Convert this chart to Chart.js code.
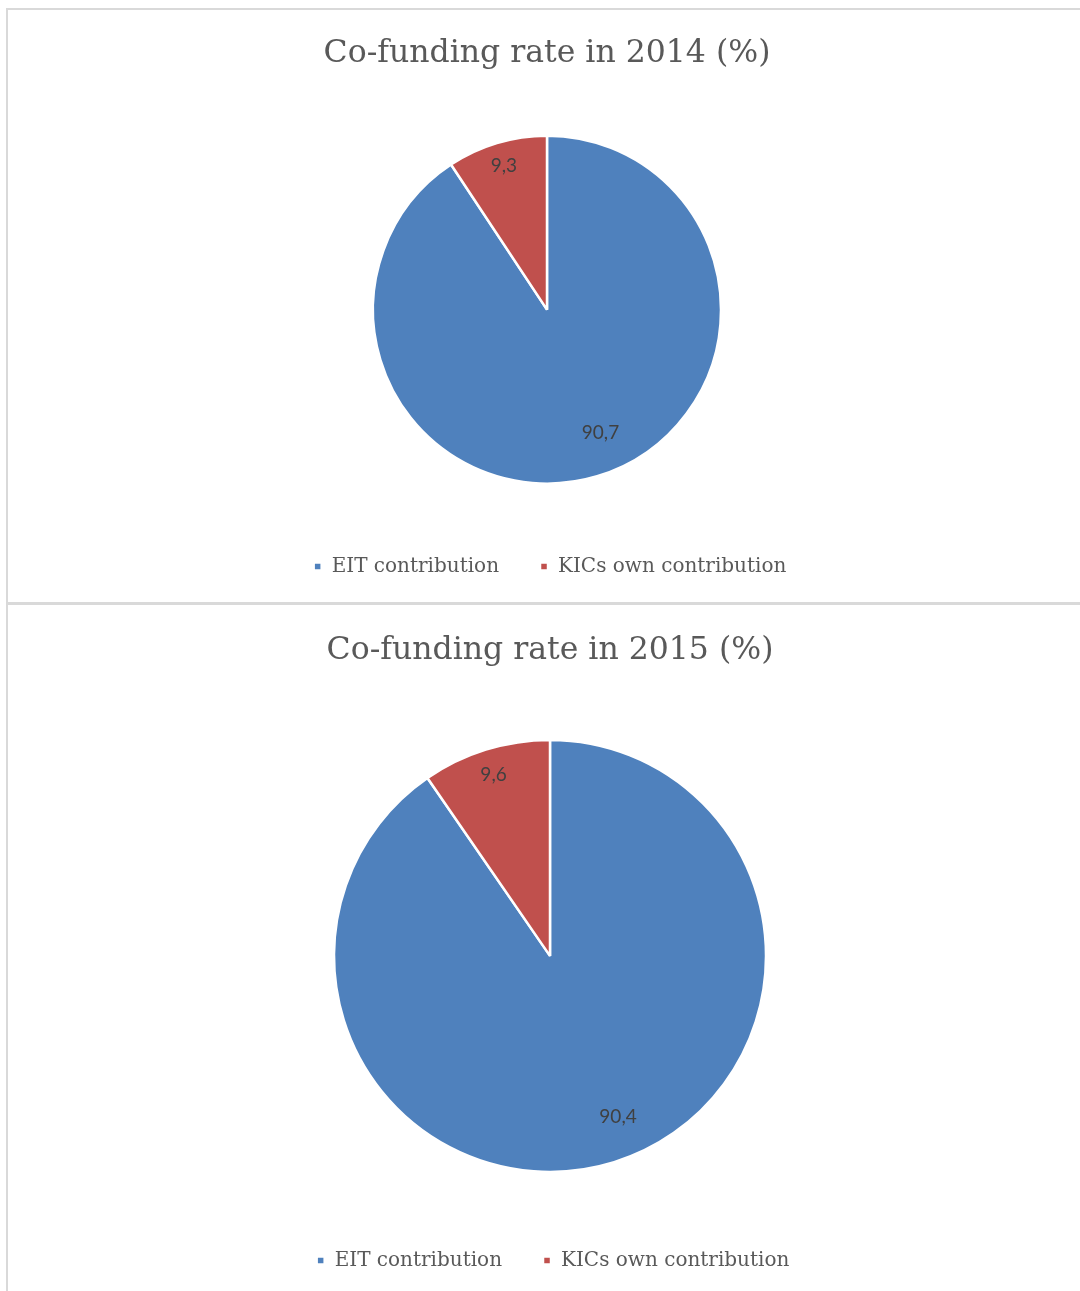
<!DOCTYPE html>
<html>
<head>
<meta charset="utf-8">
<script src="https://cdn.jsdelivr.net/npm/chart.js@4.4.1/dist/chart.umd.min.js"></script>
<style>
  html, body { margin: 0; padding: 0; background: #fff; width: 1080px; height: 1291px; overflow: hidden; }
  .panel { position: absolute; left: 6px; box-sizing: border-box; border-left: 2px solid #d9d9d9; border-top: 2px solid #d9d9d9; overflow: hidden; }
  #p1 { top: 8px; width: 1084px; height: 595px; border-bottom: 1px solid #d9d9d9; }
  #p2 { top: 603px; width: 1084px; height: 700px; }
  canvas { display: block; }
</style>
</head>
<body>
<div class="panel" id="p1"><canvas id="c1" width="1078" height="592"></canvas></div>
<div class="panel" id="p2"><canvas id="c2" width="1084" height="698"></canvas></div>
<script>
const categories = ["EIT contribution", "KICs own contribution"];
const values2014 = [90.7, 9.3];
const values2015 = [90.4, 9.6];
const titles = ["Co-funding rate in 2014 (%)", "Co-funding rate in 2015 (%)"];
const colors = ["#4F81BD", "#C0504D"];

const labelPlugin = {
  id: 'sliceLabels',
  afterLayout(chart) {
    const s = chart.options.plugins.sliceLabels.legendShift || 0;
    if (chart.legend) { chart.legend.left += s; chart.legend.right += s; }
  },
  afterDatasetsDraw(chart) {
    const ctx = chart.ctx;
    const meta = chart.getDatasetMeta(0);
    const data = chart.data.datasets[0].data;
    const o = chart.options.plugins.sliceLabels;
    ctx.save();
    ctx.font = '19px Lato';
    ctx.fillStyle = '#404040';
    ctx.textAlign = 'center';
    ctx.textBaseline = 'middle';
    meta.data.forEach((arc, i) => {
      const p = arc.getProps(['x','y','startAngle','endAngle','outerRadius'], true);
      const mid = (p.startAngle + p.endAngle) / 2 + o.shift[i] * Math.PI / 180;
      const r = p.outerRadius * o.fractions[i];
      const txt = String(data[i]).replace('.', ',');
      ctx.fillText(txt, p.x + Math.cos(mid) * r, p.y + Math.sin(mid) * r);
    });
    ctx.restore();
  }
};

function makeChart(id, values, title, radius, opts) {
  return new Chart(document.getElementById(id), {
    type: 'pie',
    data: {
      labels: categories,
      datasets: [{ data: values, backgroundColor: colors, borderColor: '#ffffff', borderWidth: 2.5, radius: radius }]
    },
    options: {
      responsive: false,
      animation: false,
      layout: { padding: opts.layout },
      plugins: {
        tooltip: { enabled: false },
        title: {
          display: true, text: title, color: '#595959',
          font: { family: 'DejaVu Serif', size: 31.5, weight: 'normal' },
          padding: opts.title
        },
        legend: {
          position: 'bottom',
          labels: {
            color: '#595959', font: { family: 'DejaVu Serif', size: 20 },
            usePointStyle: true, pointStyle: 'rect', boxWidth: 8, boxHeight: 8, padding: 41
          }
        },
        sliceLabels: { fractions: opts.fractions, shift: opts.shift, legendShift: 3 }
      }
    },
    plugins: [labelPlugin]
  });
}

makeChart('c1', values2014, titles[0], 174, { layout: { left: 0, right: 0, top: 0, bottom: 15.5 }, title: { top: 25, bottom: 31 }, fractions: [0.77, 0.86], shift: [-6.8, 0] });
makeChart('c2', values2015, titles[1], 216, { layout: { left: 0, right: 0, top: 0, bottom: 22.5 }, title: { top: 27, bottom: 32.5 }, fractions: [0.81, 0.88], shift: [-5.6, 0] });
</script>
</body>
</html>
